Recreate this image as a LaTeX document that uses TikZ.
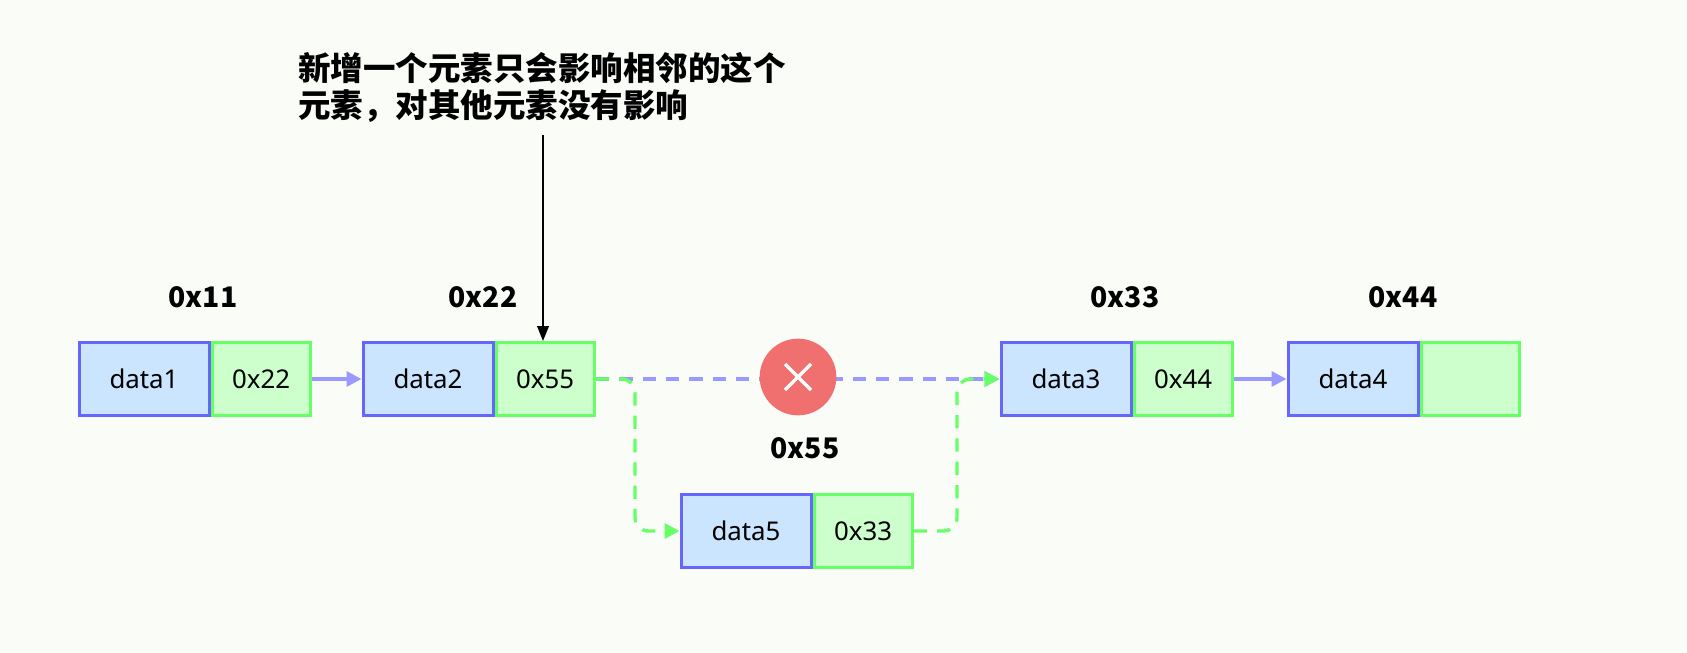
\documentclass[tikz,border=0pt]{standalone}
\usepackage{fontspec}
\setmainfont{Noto Sans}
\newfontfamily\cjk{Noto Sans CJK SC}
\usetikzlibrary{arrows.meta,positioning}
\definecolor{bgc}{HTML}{FAFCF8}
\definecolor{datafill}{HTML}{CCE5FF}
\definecolor{dataline}{HTML}{6666FF}
\definecolor{ptrfill}{HTML}{CCFFCC}
\definecolor{ptrline}{HTML}{66FF66}
\definecolor{linkc}{HTML}{9999FF}
\definecolor{crossc}{HTML}{F07070}
\tikzset{
	datacell/.style={draw=dataline,fill=datafill,line width=1.8pt,
		minimum width=78pt,minimum height=44pt,inner sep=0pt,font=\fontsize{15.5}{18}\selectfont},
	ptrcell/.style={draw=ptrline,fill=ptrfill,line width=1.8pt,
		minimum width=59pt,minimum height=44pt,inner sep=0pt,font=\fontsize{15.5}{18}\selectfont},
	addr/.style={font=\cjk\bfseries\fontsize{17}{20}\selectfont},
	link/.style={draw=linkc,line width=2pt,-{Triangle[length=9pt,width=9pt]}},
	newlink/.style={draw=ptrline,line width=2pt,dash pattern=on 8pt off 6pt,
		-{Triangle[length=9pt,width=9pt]},rounded corners=8pt},
	oldlink/.style={draw=linkc,line width=2pt,dash pattern=on 8pt off 6pt,
		-{Triangle[length=9pt,width=9pt]}}
}
\begin{document}
\begin{tikzpicture}[x=0.6pt,y=-0.6pt]
	\fill[bgc] (0,0) rectangle (1687,653);
	\useasboundingbox (0,0) rectangle (1687,653);

	% list nodes
	\node [datacell] (d1) at (144,379)  {data1};
	\node [ptrcell,right=0pt of d1] (p1) {0x22};
	\node [datacell] (d2) at (428,379)  {data2};
	\node [ptrcell,right=0pt of d2] (p2) {0x55};
	\node [datacell] (d3) at (1066,379) {data3};
	\node [ptrcell,right=0pt of d3] (p3) {0x44};
	\node [datacell] (d4) at (1353,379) {data4};
	\node [ptrcell,right=0pt of d4] (p4) {};
	\node [datacell] (d5) at (746,531)  {data5};
	\node [ptrcell,right=0pt of d5] (p5) {0x33};

	% addresses
	\node [addr] (a1) at (203,297)  {0x11};
	\node [addr] (a2) at (483,297)  {0x22};
	\node [addr] (a3) at (1125,297) {0x33};
	\node [addr] (a4) at (1403,297) {0x44};
	\node [addr] (a5) at (805,448)  {0x55};

	% links
	\draw [link] (p1) -- (d2);
	\draw [link] (p3) -- (d4);
	\draw [oldlink] (p2.east) -- (d3.west);
	\draw [newlink] (p2.east) -| (635,531) -- (d5.west);
	\draw [newlink] (p5.east) -| (957,379) -- (d3.west);

	% removed link
	\node [circle,fill=crossc,minimum size=46pt,inner sep=0pt] (x) at (798,377) {};
	\draw [white,line width=2pt] ([shift={(-13,-13)}]x.center) -- ([shift={(13,13)}]x.center)
		([shift={(-13,13)}]x.center) -- ([shift={(13,-13)}]x.center);

	% note
	\node [align=left,anchor=north west,font=\cjk\bfseries\fontsize{19.5}{22.5}\selectfont,inner sep=0pt] (note) at (298,52)
		{新增一个元素只会影响相邻的这个\\元素，对其他元素没有影响};
	\coordinate (nt) at (543,135);
	\draw [black,line width=1pt,-{Triangle[length=9pt,width=7pt]}] (nt) -- (543,341);
\end{tikzpicture}
\end{document}
